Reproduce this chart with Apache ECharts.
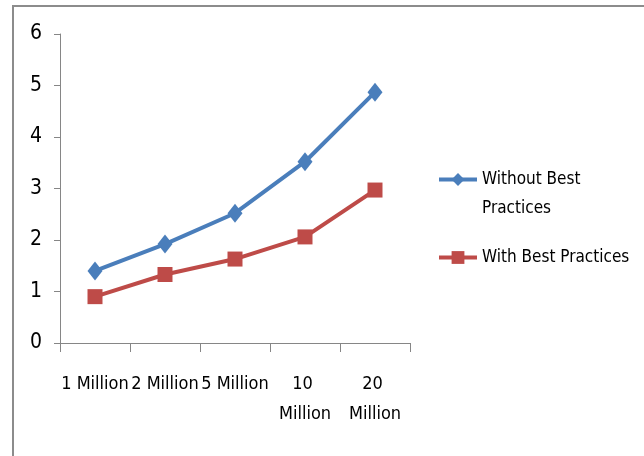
<!DOCTYPE html>
<html>
<head>
<meta charset="utf-8">
<script src="https://cdn.jsdelivr.net/npm/echarts@6/dist/echarts.min.js"></script>
<style>
  html, body { margin: 0; padding: 0; background: #fff; }
  #chart { width: 644px; height: 456px; }
</style>
</head>
<body>
<div id="chart"></div>
<script>
// Dataset sizes (categories) and processing times for both approaches
const categories = ['1 Million', '2 Million', '5 Million', '10 Million', '20 Million'];
const withoutBest = [1.4, 1.92, 2.52, 3.52, 4.87];
const withBest = [0.9, 1.33, 1.63, 2.06, 2.97];
const yTicks = [0, 1, 2, 3, 4, 5, 6];

const FONT = "'Liberation Sans Narrow', 'DejaVu Sans Condensed', 'Liberation Sans', sans-serif";
const BLUE = '#4a7ebb';
const RED = '#be4b48';
const AXIS = '#868686';

const chart = echarts.init(document.getElementById('chart'), null, { renderer: 'canvas' });

chart.setOption({
  backgroundColor: '#ffffff',
  animation: false,
  textStyle: { fontFamily: FONT, color: '#000' },
  graphic: [{
    type: 'rect',
    shape: { x: 13, y: 6, width: 1000, height: 1000 },
    style: { fill: 'none', stroke: '#8c8c8c', lineWidth: 2 },
    silent: true
  }],
  grid: { left: 60, top: 34, width: 350, height: 309, containLabel: false },
  legend: [
    {
      data: ['Without Best Practices'],
      orient: 'vertical',
      left: 437,
      top: 136,
      padding: 0,
      itemWidth: 38,
      itemHeight: 16,
      lineStyle: { width: 4 },
      // blank first line keeps "Without Best" level with the legend icon
      formatter: () => '\nWithout Best\nPractices',
      textStyle: { fontFamily: FONT, fontSize: 17, lineHeight: 29, color: '#000' }
    },
    {
      data: ['With Best Practices'],
      orient: 'vertical',
      left: 437,
      top: 243,
      padding: 0,
      itemWidth: 38,
      itemHeight: 16,
      lineStyle: { width: 4 },
      textStyle: { fontFamily: FONT, fontSize: 17, lineHeight: 29, color: '#000' }
    }
  ],
  xAxis: {
    type: 'category',
    data: categories,
    boundaryGap: true,
    axisLine: { lineStyle: { color: AXIS, width: 1 } },
    axisTick: { show: true, length: 9, alignWithLabel: false, lineStyle: { color: AXIS } },
    axisLabel: {
      interval: 0,
      margin: 26,
      fontFamily: FONT,
      fontSize: 18,
      lineHeight: 30,
      color: '#000',
      width: 74,
      overflow: 'break'
    },
    splitLine: { show: false }
  },
  yAxis: {
    type: 'value',
    min: yTicks[0],
    max: yTicks[yTicks.length - 1],
    interval: 1,
    axisLine: { show: true, lineStyle: { color: AXIS, width: 1 } },
    axisTick: { show: true, length: 6, lineStyle: { color: AXIS } },
    axisLabel: { margin: 18, fontFamily: FONT, fontSize: 21, color: '#000' },
    splitLine: { show: false }
  },
  series: [
    {
      name: 'Without Best Practices',
      type: 'line',
      data: withoutBest,
      color: BLUE,
      symbol: 'diamond',
      symbolSize: [15, 19],
      lineStyle: { width: 4, color: BLUE },
      itemStyle: { color: BLUE }
    },
    {
      name: 'With Best Practices',
      type: 'line',
      data: withBest,
      color: RED,
      symbol: 'rect',
      symbolSize: 15,
      lineStyle: { width: 4, color: RED },
      itemStyle: { color: RED }
    }
  ]
});
</script>
</body>
</html>
